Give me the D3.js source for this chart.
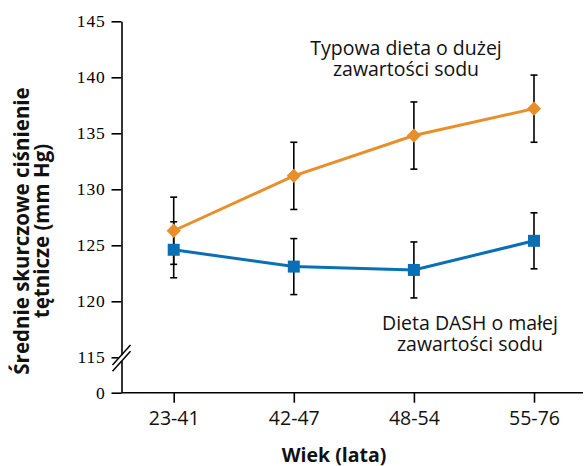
<!DOCTYPE html>
<html><head><meta charset="utf-8">
<script src="https://cdn.jsdelivr.net/npm/d3@7"></script>
<style>body{margin:0;background:#fff;} svg{display:block;}</style>
</head><body>
<script>
const categories = ["23-41","42-47","48-54","55-76"];
const highSodium = [126.3, 131.2, 134.8, 137.2];
const highSodiumErr = [3.0, 3.0, 3.0, 3.0];
const dashLow = [124.6, 123.1, 122.8, 125.4];
const dashLowErr = [2.5, 2.5, 2.5, 2.5];
const yTickValues = [0, 115, 120, 125, 130, 135, 140, 145];
const highLabel = ["Typowa dieta o dużej", "zawartości sodu"];
const lowLabel = ["Dieta DASH o małej", "zawartości sodu"];
const yTitle = ["Średnie skurczowe ciśnienie", "tętnicze (mm Hg)"];
const xTitle = "Wiek (lata)";

const W = 585, H = 466;
const axisX = 121.5, axisRight = 583;
const orange = "#e88f2c", blue = "#0b6fb5";
const sans = "'Open Sans', 'Noto Sans', sans-serif";

const svg = d3.select("body").append("svg").attr("width", W).attr("height", H);

const y = d3.scaleLinear().domain([0, 115, 145]).range([392.7, 357.3, 21.3]);
const x = d3.scalePoint().domain(categories).range([173.7, 534]);

// Y axis
const yAxis = svg.append("g").attr("transform", `translate(${axisX},0)`)
  .call(d3.axisLeft(y).tickValues(yTickValues).tickSize(10).tickSizeOuter(0).tickPadding(6).tickFormat(d3.format("d")));
yAxis.selectAll("path, line").attr("stroke", "#000").attr("stroke-width", 1.6);
yAxis.selectAll("text").attr("font-family", "'Liberation Serif', 'Times New Roman', serif")
  .attr("font-size", 17.5).attr("fill", "#000").attr("letter-spacing", 0.8);

// axis break
const bm = y(112.2);
svg.append("rect").attr("x", axisX - 3).attr("y", bm - 3).attr("width", 6).attr("height", 6).attr("fill", "#fff");
[-3.2, 3.2].forEach(o => {
  svg.append("line").attr("x1", axisX - 9).attr("y1", bm + o + 10).attr("x2", axisX + 9).attr("y2", bm + o - 10)
    .attr("stroke", "#000").attr("stroke-width", 1.5);
});

// X axis
const xAxis = svg.append("g").attr("transform", `translate(0,${y(0)})`)
  .call(d3.axisBottom(x).tickSize(10).tickSizeOuter(0).tickPadding(8));
xAxis.select(".domain").remove();
xAxis.selectAll("line").attr("stroke", "#000").attr("stroke-width", 1.6);
xAxis.selectAll("text").attr("font-family", sans).attr("font-size", 19.5).attr("fill", "#111");
svg.append("line").attr("x1", axisX).attr("x2", axisRight).attr("y1", y(0)).attr("y2", y(0))
  .attr("stroke", "#000").attr("stroke-width", 1.6);

// error bars
function errBars(vals, errs) {
  const g = svg.append("g").attr("stroke", "#000").attr("stroke-width", 1.6);
  vals.forEach((v, i) => {
    const cx = x(categories[i]);
    g.append("line").attr("x1", cx).attr("x2", cx).attr("y1", y(v - errs[i])).attr("y2", y(v + errs[i]));
    [v - errs[i], v + errs[i]].forEach(e => {
      g.append("line").attr("x1", cx - 3.5).attr("x2", cx + 3.5).attr("y1", y(e)).attr("y2", y(e));
    });
  });
}
errBars(highSodium, highSodiumErr);
errBars(dashLow, dashLowErr);

const line = d3.line().x((d, i) => x(categories[i])).y(d => y(d));
svg.append("path").datum(highSodium).attr("d", line).attr("fill", "none").attr("stroke", orange).attr("stroke-width", 3);
svg.append("path").datum(dashLow).attr("d", line).attr("fill", "none").attr("stroke", blue).attr("stroke-width", 3);

// markers
svg.append("g").selectAll("path").data(highSodium).join("path")
  .attr("transform", (d, i) => `translate(${x(categories[i])},${y(d)})`)
  .attr("d", d3.symbol().type(d3.symbolDiamond2).size(130)).attr("fill", orange);
svg.append("g").selectAll("rect").data(dashLow).join("rect")
  .attr("x", (d, i) => x(categories[i]) - 6).attr("y", d => y(d) - 6)
  .attr("width", 12).attr("height", 12).attr("fill", blue);

// series labels
function label(lines, cx, by) {
  lines.forEach((l, i) => svg.append("text").attr("font-family", sans).attr("font-size", 19.5)
    .attr("fill", "#111").attr("text-anchor", "middle").attr("x", cx).attr("y", by + i * 20.5).text(l));
}
label(highLabel, 406, 55);
label(lowLabel, 470, 330);

// titles
svg.append("text").attr("x", 334).attr("y", 461.5).attr("text-anchor", "middle")
  .attr("font-family", sans).attr("font-weight", "bold").attr("font-size", 19.5).attr("fill", "#111").text(xTitle);
yTitle.forEach((l, i) => svg.append("text").attr("transform", `translate(${29 + i * 19.5},231) rotate(-90)`)
  .attr("text-anchor", "middle").attr("font-family", sans).attr("font-weight", "bold")
  .attr("font-size", 20.5).attr("fill", "#111").text(l));
</script>
</body></html>
